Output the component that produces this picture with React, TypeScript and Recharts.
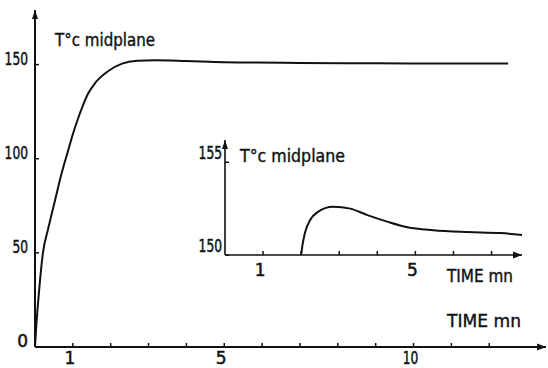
import React from "react";
import { LineChart, Line, XAxis, YAxis, ReferenceDot } from "recharts";

// Main chart: midplane temperature vs time
const mainTime = [0, 0.03, 0.1, 0.21, 0.35, 0.53, 0.7, 0.87, 1.0, 1.14, 1.27, 1.4, 1.6, 1.93, 2.3, 2.7, 3.2, 4, 5, 7, 9, 11, 12.5];
const mainTemp = [0, 10, 28, 50, 63, 78, 92, 104, 113, 121.5, 128.5, 134.5, 140.5, 146.5, 150.5, 152, 152.3, 151.9, 151.3, 150.9, 150.7, 150.6, 150.6];
const mainXTicks = [1, 2, 3, 4, 5, 6, 7, 8, 9, 10, 11, 12];
const mainXLabels = [1, 5, 10];
const mainYTicks = [0, 50, 100, 150];

// Inset chart: zoom on the plateau
const insetTime = [2.0, 2.04, 2.1, 2.24, 2.42, 2.84, 3.29, 3.74, 4.26, 4.79, 5.47, 6.37, 7.24, 7.82];
const insetTemp = [150, 150.6, 151.2, 151.9, 152.3, 152.6, 152.5, 152.15, 151.8, 151.5, 151.34, 151.24, 151.18, 151.08];
const insetXTicks = [1, 2, 3, 4, 5, 6, 7];
const insetXLabels = [1, 5];
const insetYTicks = [150, 155];

const yLabel = "T°c midplane";
const xLabel = "TIME mn";

const FONT = "'DejaVu Sans', sans-serif";
const INK = "#111";
const DIGIT_W = 7.8;

const mainData = mainTime.map((t, i) => ({ t, v: mainTemp[i] }));
const insetData = insetTime.map((t, i) => ({ t, v: insetTemp[i] }));

const Num = ({ x, y, value, anchor }: { x: number; y: number; value: number; anchor: "start" | "middle" | "end" }) => {
  const s = String(value);
  const len = s.length > 1 ? s.length * DIGIT_W : undefined;
  return (
    <text
      x={x}
      y={y}
      textAnchor={anchor}
      dominantBaseline="central"
      fontFamily={FONT}
      fontSize={17}
      fill={INK}
      stroke={INK}
      strokeWidth={0.5}
      textLength={len}
      lengthAdjust={len ? "spacingAndGlyphs" : undefined}
    >
      {s}
    </text>
  );
};

const makeXTick = (labels: number[], labelDy: number) => (props: any) => {
  const { x, y, payload } = props;
  const show = labels.includes(payload.value);
  return (
    <g>
      <line x1={x} x2={x} y1={y} y2={y - 4} stroke={INK} strokeWidth={1.5} />
      {show && <Num x={x - 3} y={y + labelDy} value={payload.value} anchor="middle" />}
    </g>
  );
};

const makeYTick = (gap: number, dy: number) => (props: any) => {
  const { x, y, payload } = props;
  return (
    <g>
      <line x1={x} x2={x + 4} y1={y} y2={y} stroke={INK} strokeWidth={1.5} />
      <Num x={x - gap} y={y + dy} value={payload.value} anchor="end" />
    </g>
  );
};

const arrowRight = (props: any) => {
  const { cx, cy } = props;
  return <path d={`M${cx},${cy} L${cx - 9},${cy - 3.5} L${cx - 9},${cy + 3.5} Z`} fill={INK} />;
};
const arrowUp = (props: any) => {
  const { cx, cy } = props;
  return <path d={`M${cx},${cy} L${cx - 3},${cy + 9} L${cx + 3},${cy + 9} Z`} fill={INK} />;
};

const Title = ({ x, y, w, children }: { x: number; y: number; w: number; children: string }) => (
  <text
    x={x}
    y={y}
    fontFamily={FONT}
    fontSize={17}
    fill={INK}
    stroke={INK}
    strokeWidth={0.4}
    textLength={w}
    lengthAdjust="spacingAndGlyphs"
  >
    {children}
  </text>
);

export default function App() {
  return (
    <div style={{ position: "absolute", left: 0, top: 0, width: 548, height: 368, background: "#fff", overflow: "hidden" }}>
      <div style={{ position: "absolute", left: 0, top: 0 }}>
        <LineChart width={548} height={368} data={mainData} margin={{ top: 10, right: 2, bottom: 0, left: 0 }}>
          <XAxis
            dataKey="t"
            type="number"
            domain={[0, 13.5]}
            allowDataOverflow
            ticks={mainXTicks}
            interval={0}
            height={21}
            tickSize={0}
            tickMargin={0}
            tickLine={false}
            axisLine={{ stroke: INK, strokeWidth: 2 }}
            tick={makeXTick(mainXLabels, 11)}
          />
          <YAxis
            dataKey="v"
            type="number"
            domain={[0, 179]}
            allowDataOverflow
            ticks={mainYTicks}
            interval={0}
            width={35}
            tickSize={0}
            tickMargin={0}
            tickLine={false}
            axisLine={{ stroke: INK, strokeWidth: 2 }}
            tick={makeYTick(7, -6)}
          />
          <ReferenceDot x={13.5} y={0} r={0} ifOverflow="visible" shape={arrowRight} />
          <ReferenceDot x={0} y={179} r={0} ifOverflow="visible" shape={arrowUp} />
          <Line type="monotone" dataKey="v" stroke={INK} strokeWidth={2} dot={false} isAnimationActive={false} />
        </LineChart>
      </div>
      <div style={{ position: "absolute", left: 180, top: 130 }}>
        <LineChart width={350} height={150} data={insetData} margin={{ top: 10, right: 8, bottom: 0, left: 0 }}>
          <XAxis
            dataKey="t"
            type="number"
            domain={[0, 7.8]}
            allowDataOverflow
            ticks={insetXTicks}
            interval={0}
            height={25}
            tickSize={0}
            tickMargin={0}
            tickLine={false}
            axisLine={{ stroke: INK, strokeWidth: 1.6 }}
            tick={makeXTick(insetXLabels, 15)}
          />
          <YAxis
            dataKey="v"
            type="number"
            domain={[150, 156.2]}
            allowDataOverflow
            ticks={insetYTicks}
            interval={0}
            width={45}
            tickSize={0}
            tickMargin={0}
            tickLine={false}
            axisLine={{ stroke: INK, strokeWidth: 1.6 }}
            tick={makeYTick(3, -9)}
          />
          <ReferenceDot x={7.8} y={150} r={0} ifOverflow="visible" shape={arrowRight} />
          <ReferenceDot x={0} y={156.2} r={0} ifOverflow="visible" shape={arrowUp} />
          <Line type="monotone" dataKey="v" stroke={INK} strokeWidth={2} dot={false} isAnimationActive={false} />
        </LineChart>
      </div>
      <svg width={548} height={368} style={{ position: "absolute", left: 0, top: 0, pointerEvents: "none" }}>
        <Title x={55} y={46} w={100}>{yLabel}</Title>
        <Title x={447} y={327} w={74}>{xLabel}</Title>
        <Title x={240} y={162} w={105}>{yLabel}</Title>
        <Title x={447} y={282} w={66}>{xLabel}</Title>
      </svg>
    </div>
  );
}
